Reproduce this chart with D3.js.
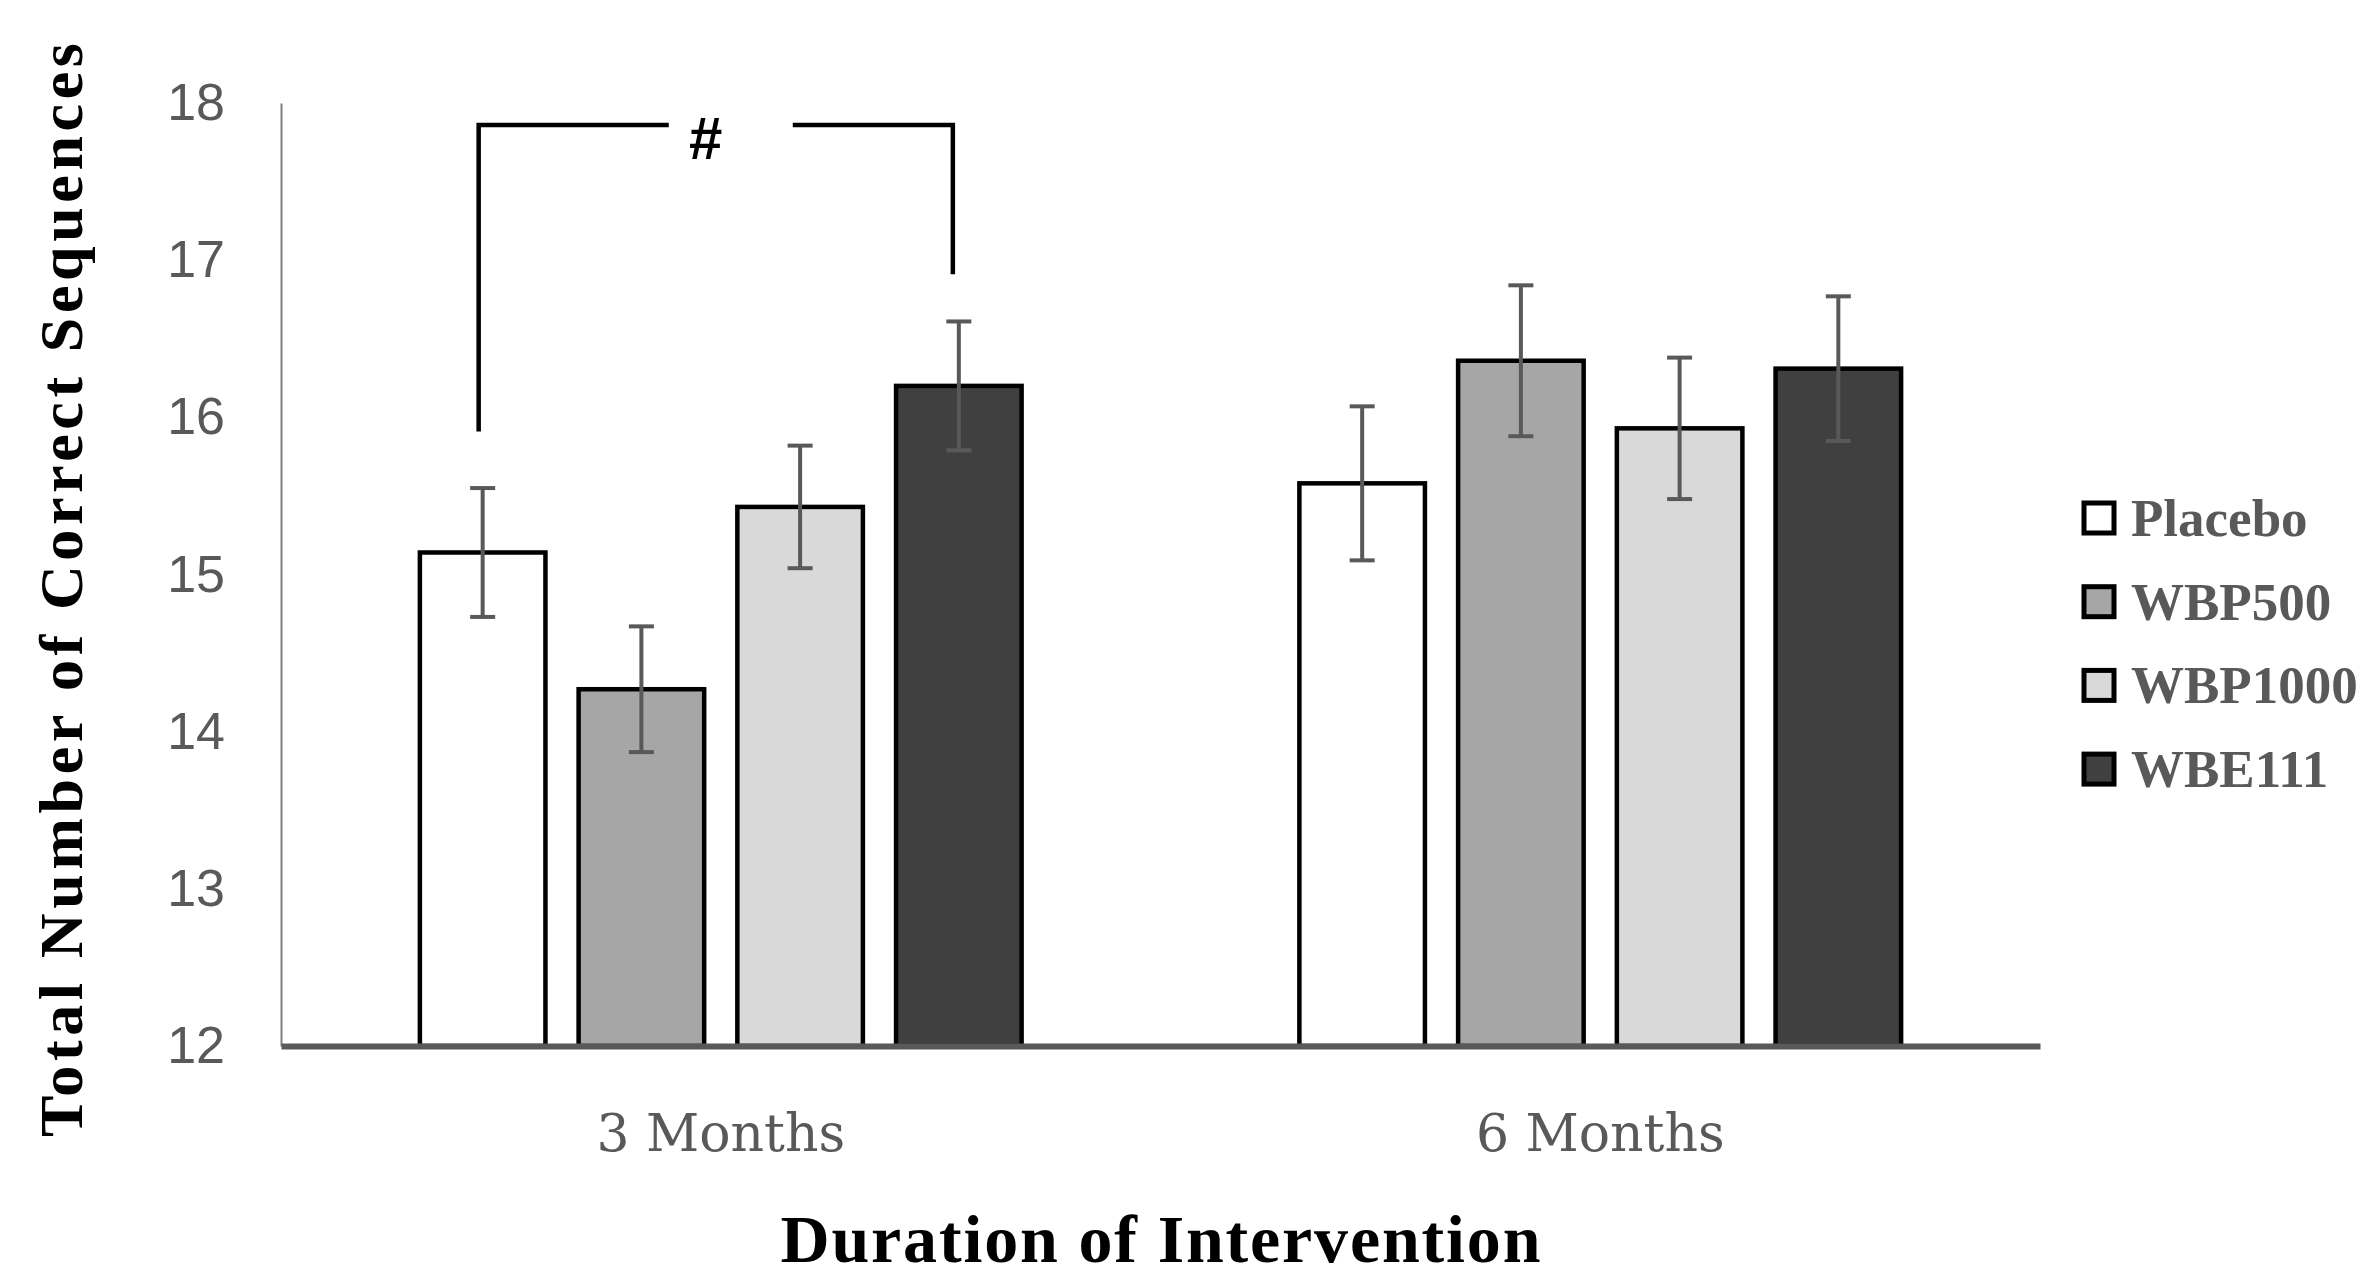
<!DOCTYPE html>
<html>
<head>
<meta charset="utf-8">
<script src="https://cdn.jsdelivr.net/npm/d3@7"></script>
<style>
  body { margin: 0; background: #fff; }
  svg { display: block; }
</style>
</head>
<body>
<svg id="chart" width="2370" height="1288"></svg>
<script>
// data
var groups = ["3 Months", "6 Months"];
var series = ["Placebo", "WBP500", "WBP1000", "WBE111"];
var fills = ["#ffffff", "#a6a6a6", "#d9d9d9", "#404040"];
var means3 = [15.14, 14.27, 15.43, 16.20];
var means6 = [15.58, 16.36, 15.93, 16.31];
var err3 = [0.41, 0.40, 0.39, 0.41];
var err6 = [0.49, 0.48, 0.45, 0.46];
var yTicks = [12, 13, 14, 15, 16, 17, 18];

var rows = [];
groups.forEach(function (g, gi) {
	var m = gi === 0 ? means3 : means6;
	var e = gi === 0 ? err3 : err6;
	series.forEach(function (s, si) {
		rows.push({ group: g, series: s, value: m[si], err: e[si], fill: fills[si] });
	});
});

var plotL = 281, plotR = 2040, plotT = 103, plotB = 1046;

var svg = d3.select("#chart");

var y = d3.scaleLinear().domain([12, 18]).range([plotB, plotT]);
var x0 = d3.scaleBand().domain(groups).range([plotL, plotR]);
var x1 = d3.scaleBand().domain(series).range([0, x0.bandwidth()])
	.paddingInner(0.209).paddingOuter(0.875);

// y axis
var yAxis = svg.append("g")
	.attr("transform", "translate(" + plotL + ",0)")
	.call(d3.axisLeft(y).tickValues(yTicks).tickFormat(d3.format("d")).tickSize(0).tickPadding(56));
yAxis.select(".domain").attr("stroke", "#7f7f7f").attr("stroke-width", 2);
yAxis.selectAll("text")
	.attr("font-family", "Liberation Sans, Arial, sans-serif")
	.attr("font-size", 52)
	.attr("fill", "#595959");

// bars
var bars = svg.append("g");
bars.selectAll("rect")
	.data(rows)
	.enter()
	.append("rect")
	.attr("x", function (d) { return x0(d.group) + x1(d.series); })
	.attr("y", function (d) { return y(d.value); })
	.attr("width", x1.bandwidth())
	.attr("height", function (d) { return y(12) - y(d.value); })
	.attr("fill", function (d) { return d.fill; })
	.attr("stroke", "#000")
	.attr("stroke-width", 4.5);

// x axis line
var xAxis = svg.append("g")
	.attr("transform", "translate(0," + plotB + ")")
	.call(d3.axisBottom(x0).tickSize(0).tickPadding(68));
xAxis.select(".domain").attr("stroke", "#595959").attr("stroke-width", 6);
xAxis.selectAll("text")
	.attr("font-family", "DejaVu Serif, serif")
	.attr("font-size", 52)
	.attr("fill", "#595959");

// error bars
var capW = 25;
var eb = svg.append("g").attr("stroke", "#595959").attr("stroke-width", 4);
rows.forEach(function (d) {
	var cx = x0(d.group) + x1(d.series) + x1.bandwidth() / 2;
	eb.append("line").attr("x1", cx).attr("x2", cx)
		.attr("y1", y(d.value + d.err)).attr("y2", y(d.value - d.err));
	[d.value + d.err, d.value - d.err].forEach(function (v) {
		eb.append("line").attr("x1", cx - capW / 2).attr("x2", cx + capW / 2)
			.attr("y1", y(v)).attr("y2", y(v));
	});
});

// significance bracket between Placebo and WBE111 at 3 months
var bx1 = x0(groups[0]) + x1("Placebo") + x1.bandwidth() / 2 - 4;
var bx2 = x0(groups[0]) + x1("WBE111") + x1.bandwidth() / 2 - 6;
var by = y(17.86);
var br = svg.append("g").attr("stroke", "#000").attr("stroke-width", 4.5).attr("fill", "none");
var hashX = (bx1 + bx2) / 2 - 10;
br.append("path").attr("d", "M" + bx1 + "," + y(15.91) + "V" + by + "H" + (hashX - 37));
br.append("path").attr("d", "M" + (hashX + 87) + "," + by + "H" + bx2 + "V" + y(16.91));
svg.append("text")
	.attr("x", hashX).attr("y", by + 34)
	.attr("text-anchor", "middle")
	.attr("font-family", "Liberation Sans, Arial, sans-serif")
	.attr("font-weight", "bold")
	.attr("font-size", 60)
	.attr("fill", "#000")
	.text("#");

// legend
var leg = svg.append("g");
series.forEach(function (s, i) {
	var ly = 518 + i * 83.7;
	leg.append("rect")
		.attr("x", 2084).attr("y", ly - 15)
		.attr("width", 30).attr("height", 30)
		.attr("fill", fills[i]).attr("stroke", "#000").attr("stroke-width", 5);
	leg.append("text")
		.attr("x", 2131).attr("y", ly)
		.attr("dominant-baseline", "central")
		.attr("font-family", "Liberation Serif, Times New Roman, serif")
		.attr("font-weight", "bold")
		.attr("font-size", 53)
		.attr("fill", "#595959")
		.text(s);
});

// axis titles
svg.append("text")
	.attr("transform", "translate(82,590) rotate(-90)")
	.attr("text-anchor", "middle")
	.attr("font-family", "Liberation Serif, Times New Roman, serif")
	.attr("font-weight", "bold")
	.attr("font-size", 62)
	.attr("textLength", 1094)
	.attr("lengthAdjust", "spacing")
	.attr("fill", "#000")
	.text("Total Number of Correct Sequences");

svg.append("text")
	.attr("x", (plotL + plotR) / 2).attr("y", 1262)
	.attr("text-anchor", "middle")
	.attr("font-family", "Liberation Serif, Times New Roman, serif")
	.attr("font-weight", "bold")
	.attr("font-size", 68)
	.attr("textLength", 760)
	.attr("lengthAdjust", "spacing")
	.attr("fill", "#000")
	.text("Duration of Intervention");
</script>
</body>
</html>
